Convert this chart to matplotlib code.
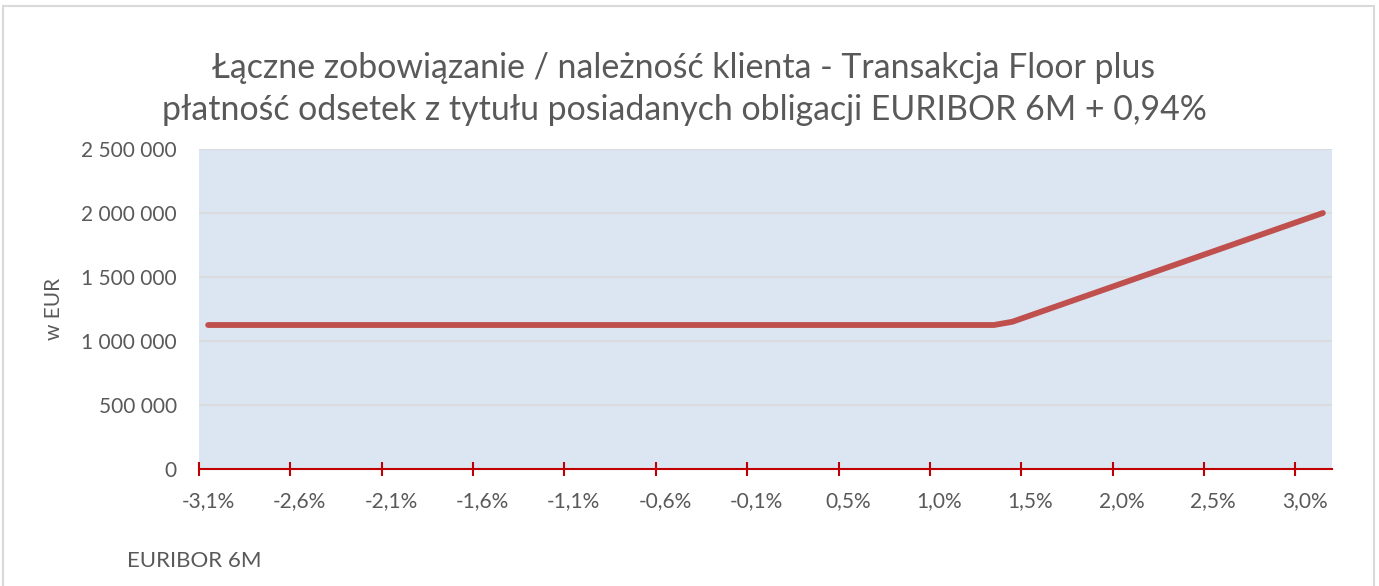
import matplotlib
matplotlib.use("Agg")
import matplotlib.pyplot as plt
from matplotlib.patches import Rectangle
from matplotlib.ticker import FuncFormatter, FixedLocator

# ---------------------------------------------------------------------------
# Data
# ---------------------------------------------------------------------------

TITLE = ("Łączne zobowiązanie / należność klienta - Transakcja Floor plus\n"
         "płatność odsetek z tytułu posiadanych obligacji EURIBOR 6M + 0,94%")

# 62 categories (EURIBOR 6M from about -3.1% to 3.1%), labelled every 5th
tick_labels = ["-3,1%", "-2,6%", "-2,1%", "-1,6%", "-1,1%", "-0,6%", "-0,1%",
               "0,5%", "1,0%", "1,5%", "2,0%", "2,5%", "3,0%"]
label_every = 5

# total liability / receivable, EUR
values = [
    1125000, 1125000, 1125000, 1125000, 1125000, 1125000, 1125000, 1125000,
    1125000, 1125000, 1125000, 1125000, 1125000, 1125000, 1125000, 1125000,
    1125000, 1125000, 1125000, 1125000, 1125000, 1125000, 1125000, 1125000,
    1125000, 1125000, 1125000, 1125000, 1125000, 1125000, 1125000, 1125000,
    1125000, 1125000, 1125000, 1125000, 1125000, 1125000, 1125000, 1125000,
    1125000, 1125000, 1125000, 1125000,
    1150000, 1200000, 1250000, 1300000, 1350000, 1400000, 1450000, 1500000,
    1550000, 1600000, 1650000, 1700000, 1750000, 1800000, 1850000, 1900000,
    1950000, 2000000,
]

y_ticks = [0, 500000, 1000000, 1500000, 2000000, 2500000]

TEXT = "#595959"
LINE = "#C0504D"
AXIS_RED = "#C00000"
FONT = "Lato"

# ---------------------------------------------------------------------------
# Plot
# ---------------------------------------------------------------------------

plt.rcParams["font.family"] = [FONT, "DejaVu Sans"]

fig = plt.figure(figsize=(13.79, 5.86), dpi=100)
fig.patch.set_facecolor("white")

# chart border (Excel-style frame)
fig.patches.append(Rectangle((3 / 1379, -0.05), 1371 / 1379, 1.05 - 6 / 586,
                             transform=fig.transFigure, fill=False,
                             edgecolor="#D9D9D9", linewidth=1.5))

ax = fig.add_axes([199 / 1379, 1 - 469 / 586, (1332 - 199) / 1379, (469 - 149) / 586])
ax.set_facecolor("#DCE6F2")

x = list(range(len(values)))
ax.plot(x, values, color=LINE, linewidth=4.2, solid_capstyle="round",
        solid_joinstyle="round", zorder=3)

ax.set_xlim(-0.5, len(values) - 0.5)
ax.set_ylim(0, 2500000)

# y axis
ax.set_yticks(y_ticks)
ax.yaxis.set_major_formatter(FuncFormatter(lambda v, p: f"{int(v):,}".replace(",", " ")))
ax.tick_params(axis="y", length=0, pad=16, labelsize=15, labelcolor=TEXT)
ax.grid(axis="y", color="#D9D9D9", linewidth=1.2)
ax.set_axisbelow(True)

# x axis: tick marks between categories, labels on categories
label_pos = [i * label_every for i in range(len(tick_labels))]
ax.xaxis.set_major_locator(FixedLocator([p - 0.5 for p in label_pos]))
ax.xaxis.set_minor_locator(FixedLocator(label_pos))
ax.set_xticklabels([], minor=False)
ax.set_xticklabels(tick_labels, minor=True)
ax.tick_params(axis="x", which="major", direction="inout", length=10,
               width=1.5, color=AXIS_RED)
ax.tick_params(axis="x", which="minor", length=0, pad=16, labelsize=15,
               labelcolor=TEXT)

for side in ("top", "right", "left"):
    ax.spines[side].set_visible(False)
ax.spines["bottom"].set_color(AXIS_RED)
ax.spines["bottom"].set_linewidth(1.5)

ax.set_ylabel("w EUR", fontsize=15, color=TEXT, labelpad=12)

fig.text(684 / 1379, 1 - 89 / 586, TITLE, ha="center", va="center",
         fontsize=24.4, color=TEXT, linespacing=1.4)
fig.text(127 / 1379, 1 - 561 / 586, "EURIBOR 6M", ha="left", va="center",
         fontsize=16, color=TEXT)

fig.savefig("out.png", dpi=100)
